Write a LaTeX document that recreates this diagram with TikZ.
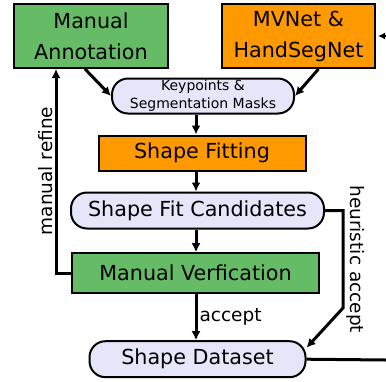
\documentclass[tikz,border=0pt]{standalone}
\usepackage{fontspec}
\setmainfont{DejaVu Sans}
\usepackage{xcolor}
\usetikzlibrary{arrows.meta, positioning}

\definecolor{boxgreen}{HTML}{66BB66}
\definecolor{boxorange}{HTML}{FF9900}
\definecolor{boxlav}{HTML}{E6E6FA}

\begin{document}
\begin{tikzpicture}[
        x=1pt, y=-1pt,
        manual/.style={rectangle, draw=black, line width=2pt, fill=boxgreen, inner sep=0pt, align=center, font=\fontsize{20.7}{31}\selectfont},
        network/.style={rectangle, draw=black, line width=2pt, fill=boxorange, inner sep=0pt, align=center, font=\fontsize{20.7}{31}\selectfont},
        result/.style={rectangle, draw=black, line width=2pt, fill=boxlav, rounded corners=16pt, inner sep=0pt, align=center, font=\fontsize{20.7}{25}\selectfont},
        arrow/.style={-{Latex[length=9pt, width=9pt]}, line width=3pt, draw=black},
        thinarrow/.style={-{Latex[length=7pt, width=7pt]}, line width=1.8pt, draw=black, shorten >=2pt},
        edgelabel/.style={font=\fontsize{18.5}{22}\selectfont, inner sep=2pt},
    ]
        \useasboundingbox (0,0) rectangle (386,381);

        % Inputs
        \node[manual, minimum width=154pt, minimum height=64pt] (ann) at (91,36) {Manual\\Annotation};
        \node[network, minimum width=153pt, minimum height=64pt, right=52pt of ann] (net) {MVNet \&\\HandSegNet};
        \node[result, minimum width=182pt, minimum height=35pt, font=\fontsize{14}{18}\selectfont] (kp) at (203,96) {Keypoints \&\\Segmentation Masks};

        % Pipeline
        \node[network, minimum width=207pt, minimum height=35.5pt, below=20pt of kp, xshift=-1pt] (fit) {Shape Fitting};
        \node[result, minimum width=253pt, minimum height=36pt, below=19.5pt of fit, xshift=-4.5pt] (cand) {Shape Fit Candidates};
        \node[manual, minimum width=247pt, minimum height=40pt, below=22.7pt of cand, xshift=-2pt] (ver) {Manual Verfication};
        \node[result, minimum width=216pt, minimum height=36pt, below=46pt of ver, xshift=2pt] (ds) {Shape Dataset};

        % Helper columns
        \coordinate (axis) at (196,0);
        \coordinate (rx) at (56,0);
        \coordinate (hx) at (343,0);
        \coordinate (hbend) at (343,308);
        \coordinate (dsout) at (386,360);
        \coordinate (netin) at (386,36);

        % Arrows
        \draw[arrow] ([xshift=-6pt]ann.south) -- (kp.west);
        \draw[arrow] ([xshift=20pt]net.south) -- (kp.east);
        \draw[arrow] (kp.south -| axis) -- (fit.north -| axis);
        \draw[arrow] (fit.south -| axis) -- (cand.north -| axis);
        \draw[arrow] (cand.south -| axis) -- (ver.north -| axis);
        \draw[arrow] (ver.south -| axis) -- node[edgelabel, right] {accept} (ds.north -| axis);
        \draw[arrow] (ver.west) -| node[edgelabel, pos=0.75, anchor=south, rotate=90] {manual refine} (rx |- ann.south);
        \draw[arrow] (cand.east) -- (cand.east -| hx) -- node[edgelabel, midway, anchor=south, rotate=-90] {heuristic accept} (hbend) -- (ds.6);

        % Loop back to the network
        \draw[line width=3pt] (ds.east) -- (dsout);
        \draw[thinarrow] (netin) -- (net.east);
    \end{tikzpicture}
\end{document}
